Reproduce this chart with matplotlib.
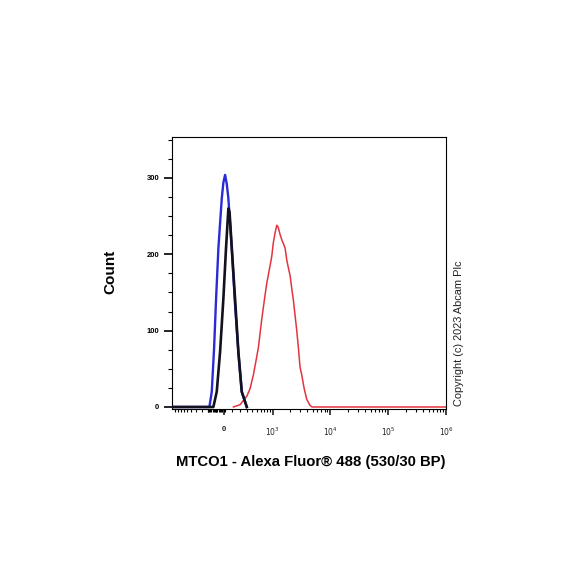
import numpy as np
import matplotlib
matplotlib.use("Agg")
import matplotlib.pyplot as plt
from matplotlib.ticker import FixedLocator, FixedFormatter

plt.rcParams['font.family'] = ['Liberation Sans', 'DejaVu Sans']

# ---- data (fluorescence value, count) ----
blue_x = [-1150, -300, -182, -150, -120, -95, -67, -27, -8, 12, 32, 51, 92, 133, 177, 225, 304]
blue_y = [0, 0, 0, 20, 77, 142, 208, 273, 294, 304, 292, 273, 208, 134, 72, 20, 0]

black_x = [-1150, -300, -129, -87, -47, -8, 23, 51, 65, 92, 133, 177, 225, 304]
black_y = [0, 0, 0, 20, 72, 142, 208, 260, 255, 208, 142, 72, 20, 0]

red_x = [112, 200, 304, 362, 427, 501, 540, 627, 702, 778, 894, 959, 1024, 1100, 1181,
         1245, 1351, 1448, 1546, 1657, 1776, 1893, 2026, 2167, 2309, 2472, 2645, 2820,
         3017, 3229, 3537, 3938, 4496, 4868, 1e6]
red_y = [0, 3, 14, 24, 42, 66, 78, 115, 140, 162, 185, 197, 215, 228, 238,
         236, 226, 219, 214, 208, 192, 182, 172, 155, 140, 120, 100, 78,
         52, 42, 25, 10, 2, 0, 0]

x_major = [0, 1e3, 1e4, 1e5, 1e6]
x_major_labels = ['0', r'$10^3$', r'$10^4$', r'$10^5$', r'$10^6$']
y_major = [0, 100, 200, 300]
y_major_labels = ['0', '100', '200', '300']

A = 295.0
fwd = lambda x: np.arcsinh(np.asarray(x) / A)
inv = lambda y: A * np.sinh(np.asarray(y))

fig = plt.figure(figsize=(5.84, 5.84), dpi=100)
ax = fig.add_axes([0.2945, 0.2997, 0.4692, 0.4658])
ax.set_xscale('function', functions=(fwd, inv))

ax.plot(red_x, red_y, color='#e3343e', lw=1.1, zorder=2)
ax.plot(blue_x, blue_y, color='#2a2ad8', lw=1.7, zorder=3)
ax.plot(black_x, black_y, color='#12121e', lw=1.9, zorder=4)

ax.set_xlim(-1150, 1e6)
ax.set_ylim(-2.6, 353.7)

# x ticks
ax.xaxis.set_major_locator(FixedLocator(x_major))
ax.xaxis.set_major_formatter(FixedFormatter(x_major_labels))
minor = list(np.arange(-1000, 0, 100)) + list(np.arange(-200, 20, 15)) + list(np.arange(100, 1000, 100))
for d in [1e3, 1e4, 1e5]:
    minor += [k * d for k in range(2, 10)]
ax.xaxis.set_minor_locator(FixedLocator(minor))

ax.yaxis.set_major_locator(FixedLocator(y_major))
ax.yaxis.set_major_formatter(FixedFormatter(y_major_labels))
ax.yaxis.set_minor_locator(FixedLocator(np.arange(25, 351, 25)))

ax.tick_params(axis='x', which='major', direction='out', length=4, width=1.2, pad=8,
               labelsize=5.5, colors='#222222')
ax.tick_params(axis='x', which='minor', direction='out', length=2.5, width=0.8)
ax.tick_params(axis='y', which='major', direction='out', length=6, width=1.2, pad=3,
               labelsize=5.5)
ax.tick_params(axis='y', which='minor', direction='out', length=3, width=0.8)
for lab in ax.get_xticklabels() + ax.get_yticklabels():
    lab.set_fontweight('bold')

for s in ax.spines.values():
    s.set_linewidth(0.8)

fig.text(110 / 584, 1 - 272 / 584, 'Count', rotation=90, ha='center', va='center',
         fontsize=11, fontweight='bold')
fig.text(311 / 584, 1 - 462 / 584, 'MTCO1 - Alexa Fluor® 488 (530/30 BP)', ha='center',
         va='center', fontsize=10.7, fontweight='bold')
fig.text(459 / 584, 1 - 333 / 584, 'Copyright (c) 2023 Abcam Plc', rotation=90,
         ha='center', va='center', fontsize=7.9, color='#222222')

fig.savefig('out.png', dpi=100)
